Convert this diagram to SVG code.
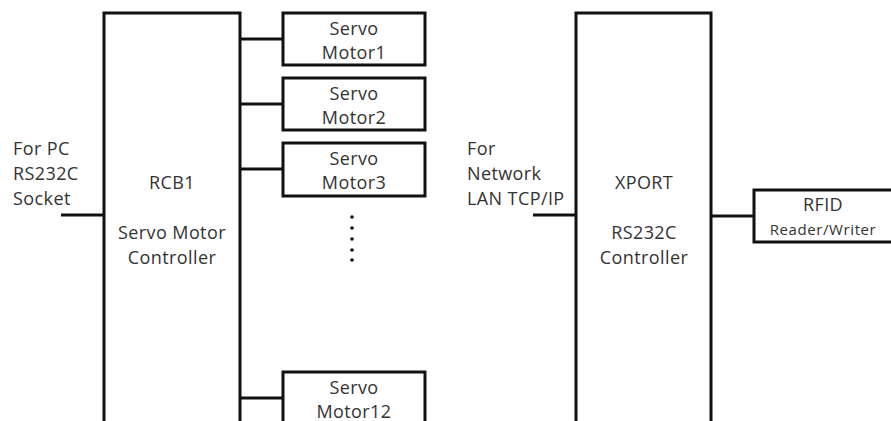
<svg xmlns="http://www.w3.org/2000/svg" width="891" height="421" viewBox="0 0 891 421">
<style>
.box{fill:#fff;stroke:#111;stroke-width:3}
.ln{stroke:#111;stroke-width:3;fill:none}
text{font-family:"Open Sans","Liberation Sans",sans-serif;font-size:18px;letter-spacing:0.4px;fill:#333}
.c{text-anchor:middle}
.s{font-size:15px;letter-spacing:0.6px}
</style>
<rect width="891" height="421" fill="#fff"/>
<g id="connectors">
<line class="ln" x1="61" y1="215" x2="104" y2="215"/>
<line class="ln" x1="240" y1="39" x2="283" y2="39"/>
<line class="ln" x1="240" y1="104" x2="283" y2="104"/>
<line class="ln" x1="240" y1="169" x2="283" y2="169"/>
<line class="ln" x1="240" y1="398" x2="283" y2="398"/>
<line class="ln" x1="533" y1="215" x2="576" y2="215"/>
<line class="ln" x1="711" y1="216" x2="754" y2="216"/>
</g>
<g id="pc-label">
<text x="13" y="155">For PC</text>
<text x="13" y="180">RS232C</text>
<text x="13" y="205">Socket</text>
</g>
<g id="rcb1">
<path class="box" d="M104,425 V13 H240 V425"/>
<text class="c" x="172" y="189">RCB1</text>
<text class="c" x="172" y="239">Servo Motor</text>
<text class="c" x="172" y="264">Controller</text>
</g>
<g id="motor1">
<rect class="box" x="283" y="13" width="142" height="52"/>
<text class="c" x="354" y="35">Servo</text>
<text class="c" x="354" y="59">Motor1</text>
</g>
<g id="motor2">
<rect class="box" x="283" y="78" width="142" height="52"/>
<text class="c" x="354" y="100">Servo</text>
<text class="c" x="354" y="124">Motor2</text>
</g>
<g id="motor3">
<rect class="box" x="283" y="143" width="142" height="53"/>
<text class="c" x="354" y="165">Servo</text>
<text class="c" x="354" y="189">Motor3</text>
</g>
<g id="ellipsis" fill="#111">
<circle cx="352" cy="217" r="1.8"/>
<circle cx="352" cy="228" r="1.8"/>
<circle cx="352" cy="239" r="1.8"/>
<circle cx="352" cy="250" r="1.8"/>
<circle cx="352" cy="260" r="1.8"/>
</g>
<g id="motor12">
<path class="box" d="M283,425 V372 H425 V425"/>
<text class="c" x="354" y="394">Servo</text>
<text class="c" x="354" y="418">Motor12</text>
</g>
<g id="net-label">
<text x="467" y="155">For</text>
<text x="467" y="180">Network</text>
<text x="467" y="205">LAN TCP/IP</text>
</g>
<g id="xport">
<path class="box" d="M576,425 V13 H711 V425"/>
<text class="c" x="644" y="189">XPORT</text>
<text class="c" x="644" y="239">RS232C</text>
<text class="c" x="644" y="264">Controller</text>
</g>
<g id="rfid">
<path class="box" d="M895,190 H754 V242 H895"/>
<text class="c" x="823" y="211">RFID</text>
<text class="c s" x="823" y="235">Reader/Writer</text>
</g>
</svg>
